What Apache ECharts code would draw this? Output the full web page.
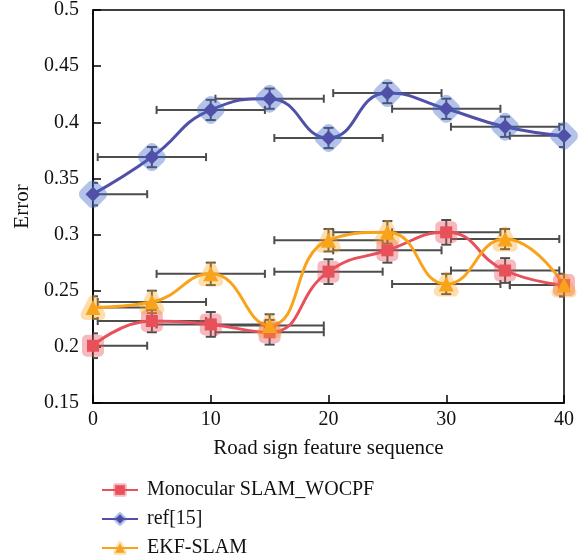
<!DOCTYPE html>
<html>
<head>
<meta charset="utf-8">
<script src="https://cdn.jsdelivr.net/npm/echarts@6/dist/echarts.min.js"></script>
<style>
  html, body { margin: 0; padding: 0; background: #fff; }
  #main { width: 586px; height: 560px; }
</style>
</head>
<body>
<div id="main"></div>
<script>
var myChart = echarts.init(document.getElementById('main'));

var xs = [0, 5, 10, 15, 20, 25, 30, 35, 40];
var yTicks = [0.15, 0.2, 0.25, 0.3, 0.35, 0.4, 0.45, 0.5];

var wocpf = [0.201, 0.223, 0.220, 0.213, 0.267, 0.286, 0.302, 0.268, 0.255];
var ref15 = [0.336, 0.369, 0.411, 0.421, 0.386, 0.426, 0.412, 0.396, 0.388];
var ekf = [0.235, 0.240, 0.265, 0.219, 0.295, 0.302, 0.256, 0.296, 0.255];

// vertical (y) errors and horizontal (x) errors
var wocpfErr = [0.011, 0.010, 0.011, 0.011, 0.011, 0.011, 0.011, 0.011, 0.010];
var ref15Err = [0.010, 0.009, 0.009, 0.009, 0.009, 0.009, 0.009, 0.009, 0.010];
var ekfErr = [0.010, 0.010, 0.010, 0.010, 0.010, 0.010, 0.009, 0.009, 0.010];
var xErr = 4.6;

var names = ['Monocular SLAM_WOCPF', 'ref[15]', 'EKF-SLAM'];
var colors = ['#E8505B', '#5050A8', '#F9A31B'];
var halos = ['rgba(232,80,91,0.4)', 'rgba(65,102,197,0.4)', 'rgba(249,163,27,0.35)'];

var serif = 'Liberation Serif';

function pairs(ys) {
    return xs.map(function (x, i) { return [x, ys[i]]; });
}
function errData(ys, errs) {
    return xs.map(function (x, i) { return [x, ys[i], xErr, errs[i]]; });
}

function renderErr(params, api) {
    var x = api.value(0), y = api.value(1), dx = api.value(2), dy = api.value(3);
    var c = api.coord([x, y]);
    var top = api.coord([x, y + dy]);
    var bot = api.coord([x, y - dy]);
    var left = api.coord([x - dx, y]);
    var right = api.coord([x + dx, y]);
    var st = { stroke: '#4d4d4d', lineWidth: 2 };
    var cw = 5, ch = 4;
    return {
        type: 'group',
        children: [
            { type: 'line', shape: { x1: c[0], y1: top[1], x2: c[0], y2: bot[1] }, style: st },
            { type: 'line', shape: { x1: c[0] - cw, y1: top[1], x2: c[0] + cw, y2: top[1] }, style: st },
            { type: 'line', shape: { x1: c[0] - cw, y1: bot[1], x2: c[0] + cw, y2: bot[1] }, style: st },
            { type: 'line', shape: { x1: left[0], y1: c[1], x2: right[0], y2: c[1] }, style: st },
            { type: 'line', shape: { x1: left[0], y1: c[1] - ch, x2: left[0], y2: c[1] + ch }, style: st },
            { type: 'line', shape: { x1: right[0], y1: c[1] - ch, x2: right[0], y2: c[1] + ch }, style: st }
        ]
    };
}

function errSeries(ys, errs) {
    return {
        type: 'custom',
        renderItem: renderErr,
        data: errData(ys, errs),
        clip: true,
        silent: true,
        z: 1
    };
}

var option = {
    backgroundColor: '#fff',
    animation: false,
    grid: {
        left: 93,
        right: 22,
        top: 10,
        bottom: 157,
        show: true,
        borderColor: '#000',
        borderWidth: 1.5
    },
    legend: {
        data: names.map(function (n, i) {
            return { name: n, itemStyle: { borderColor: halos[i], borderWidth: 4 } };
        }),
        orient: 'vertical',
        left: 96,
        top: 475,
        height: 120,
        itemWidth: 36,
        itemHeight: 12,
        itemGap: 9,
        textStyle: { fontFamily: serif, fontSize: 20, color: '#111', padding: [0, 0, 0, 4] }
    },
    xAxis: {
        type: 'value',
        min: 0,
        max: 40,
        interval: 10,
        name: 'Road sign feature sequence',
        nameLocation: 'middle',
        nameGap: 35,
        nameTextStyle: { fontFamily: serif, fontSize: 21, color: '#111' },
        axisLine: { lineStyle: { color: '#000', width: 1.5 } },
        axisTick: { inside: true, length: 8, lineStyle: { color: '#000', width: 1.5 } },
        axisLabel: { fontFamily: serif, fontSize: 20, color: '#111', margin: 7 },
        splitLine: { show: false }
    },
    yAxis: {
        type: 'value',
        min: 0.15,
        max: 0.5,
        interval: 0.05,
        name: 'Error',
        nameLocation: 'middle',
        nameGap: 54,
        nameTextStyle: { fontFamily: serif, fontSize: 21, color: '#111' },
        axisLine: { lineStyle: { color: '#000', width: 1.5 } },
        axisTick: { inside: true, length: 8, lineStyle: { color: '#000', width: 1.5 } },
        axisLabel: {
            fontFamily: serif, fontSize: 20, color: '#111', margin: 14,
            formatter: function (v) {
                var t = yTicks.filter(function (k) { return Math.abs(k - v) < 1e-6; });
                return t.length ? String(t[0]) : '';
            }
        },
        splitLine: { show: false }
    },
    series: [
        errSeries(wocpf, wocpfErr),
        errSeries(ref15, ref15Err),
        errSeries(ekf, ekfErr),
        {
            name: names[0],
            type: 'line',
            data: pairs(wocpf),
            smooth: 0.5,
            symbol: 'rect',
            symbolSize: 12,
            lineStyle: { color: colors[0], width: 3 },
            itemStyle: {
                color: colors[0],
                borderColor: halos[0],
                borderWidth: 10,
                borderJoin: 'round'
            },
            z: 3
        },
        {
            name: names[1],
            type: 'line',
            data: pairs(ref15),
            smooth: 0.5,
            symbol: 'diamond',
            symbolSize: 15,
            lineStyle: { color: colors[1], width: 3 },
            itemStyle: {
                color: '#5A4195',
                borderColor: halos[1],
                borderWidth: 13,
                borderJoin: 'round'
            },
            z: 3
        },
        {
            name: names[2],
            type: 'line',
            data: pairs(ekf),
            smooth: 0.5,
            symbol: 'triangle',
            symbolSize: 15,
            lineStyle: { color: colors[2], width: 3 },
            itemStyle: {
                color: colors[2],
                borderColor: halos[2],
                borderWidth: 10,
                borderJoin: 'round'
            },
            z: 3
        }
    ]
};
myChart.setOption(option);
</script>
</body>
</html>
